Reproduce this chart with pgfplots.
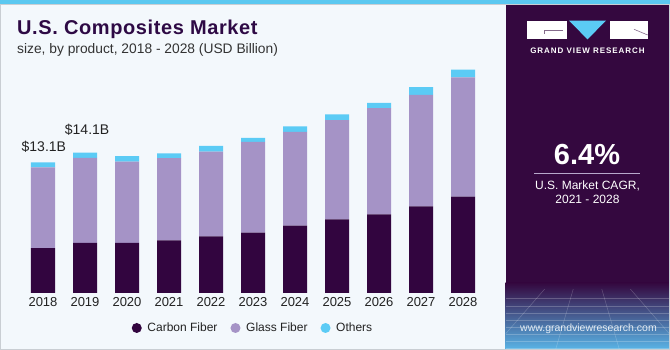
\documentclass[border=0pt]{standalone}
\usepackage{pgfplots}
\pgfplotsset{compat=1.18}
\usepackage{fontspec}
\setmainfont{Liberation Sans}
\newfontfamily\gvrfont[LetterSpace=12]{Liberation Sans}
\newfontfamily\titlefont[LetterSpace=3]{Liberation Sans}
\definecolor{carbon}{HTML}{32053F}
\definecolor{glass}{HTML}{A593C6}
\definecolor{others}{HTML}{5BCBF5}
\definecolor{panel}{HTML}{34083F}
\definecolor{leftbg}{HTML}{F3F8FC}
\definecolor{topcyan}{HTML}{5BC8F0}
\definecolor{framegray}{HTML}{C9CED3}
\definecolor{titlepurple}{HTML}{2E0A45}
\definecolor{subgray}{HTML}{333333}
\definecolor{labelgray}{HTML}{222222}
\definecolor{linepurple}{HTML}{B7A8CB}
\definecolor{photoblue}{HTML}{5AB6E8}
\definecolor{photomid}{HTML}{4A5FA8}
\begin{document}
\begin{tikzpicture}
\path[use as bounding box] (0pt,0pt) rectangle (670pt,350pt);
\fill[leftbg] (0pt,0pt) rectangle (670pt,350pt);
\fill[panel] (505.5pt,0pt) rectangle (670pt,346pt);
\shade[top color=panel, middle color=photomid, bottom color=photoblue] (505.5pt,0pt) rectangle (670pt,67pt);
\begin{scope}
\clip (505.5pt,0pt) rectangle (670pt,60pt);
\foreach \yy in {52,44,37,30,23,16,9,2} {\draw[white, opacity=0.22, line width=0.5pt] (505.5pt,\yy pt) -- (670pt,\yy pt);}
\foreach \xx in {-300,-240,-180,-120,-60,-20,20,60,120,180,240,300} {\draw[white, opacity=0.22, line width=0.5pt] (587.5pt,110pt) -- ({587.5pt+\xx*1.6pt},0pt);}
\end{scope}
\fill[topcyan] (0pt,345.5pt) rectangle (670pt,350pt);
\draw[framegray, line width=1pt] (0.5pt,0.5pt) rectangle (669.5pt,345pt);
\node[anchor=base west, font=\titlefont\fontsize{20}{23}\selectfont\bfseries, text=titlepurple, inner sep=0pt] at (17pt,315pt) {U.S. Composites Market};
\node[anchor=base west, font=\fontsize{13.8}{16}\selectfont, text=subgray, inner sep=0pt] at (17pt,296.7pt) {size, by product, 2018 - 2028 (USD Billion)};
% logo
\fill[white] (526.7pt,310.7pt) rectangle (566.7pt,329.3pt);
\fill[others] (569pt,329.3pt) -- (606pt,329.3pt) -- (587.5pt,310.7pt) -- cycle;
\fill[white] (610pt,310.7pt) rectangle (647.7pt,329.3pt);
\draw[panel!60, line width=0.6pt] (563pt,319.3pt) -- (544pt,319.3pt) -- (544pt,316.3pt);
\draw[panel!60, line width=0.6pt] (634pt,320.7pt) -- (647.7pt,315pt);
\node[anchor=base, inner sep=0pt, font=\gvrfont\bfseries\fontsize{8}{9}\selectfont, text=white] at (587.5pt,296.7pt) {GRAND VIEW RESEARCH};
\node[anchor=base, inner sep=0pt, font=\bfseries\fontsize{29}{32}\selectfont, text=white] at (587pt,185pt) {6.4\%};
\draw[linepurple, line width=1.2pt] (534pt,176.7pt) -- (640pt,176.7pt);
\node[anchor=base, inner sep=0pt, font=\fontsize{12}{14}\selectfont, text=white] at (587.5pt,160pt) {U.S. Market CAGR,};
\node[anchor=base, inner sep=0pt, font=\fontsize{12}{14}\selectfont, text=white] at (587.5pt,146pt) {2021 - 2028};
\node[inner sep=0pt, font=\fontsize{10.5}{12}\selectfont, text=white, opacity=0.85] at (588.5pt,21pt) {www.grandviewresearch.com};
\begin{axis}[
  at={(1pt,57pt)}, anchor=south west,
  x=42pt, y=9.97pt,
  xmin=-1, xmax=11, ymin=0, ymax=25,
  ybar stacked, bar width=24pt,
  axis line style={draw=none},
  major tick length=0pt,
  ytick=\empty,
  xtick={0,1,2,3,4,5,6,7,8,9,10},
  xticklabels={2018,2019,2020,2021,2022,2023,2024,2025,2026,2027,2028},
  xticklabel style={font=\fontsize{13}{15}\selectfont, text=labelgray, yshift=-1pt},
  clip=false,
  legend style={at={(0.5,-0.1404)}, anchor=center, draw=none, fill=none,
    legend columns=3, font=\fontsize{12}{14}\selectfont, text=labelgray,
    /tikz/every even column/.append style={column sep=11pt}},
]
\addplot[fill=carbon, draw=none, legend image code/.code={\fill[carbon] (0pt,0pt) circle (5pt); \path (8.7pt,0pt);}] coordinates {
(0,4.51) (1,5.02) (2,5.02) (3,5.28) (4,5.69) (5,6.05) (6,6.75) (7,7.39) (8,7.89) (9,8.70) (10,9.66)};
\addplot[fill=glass, draw=none, legend image code/.code={\fill[glass] (0pt,0pt) circle (5pt); \path (8.7pt,0pt);}] coordinates {
(0,8.08) (1,8.53) (2,8.15) (3,8.26) (4,8.49) (5,9.10) (6,9.40) (7,9.96) (8,10.66) (9,11.16) (10,11.97)};
\addplot[fill=others, draw=none, legend image code/.code={\fill[others] (0pt,0pt) circle (5pt); \path (8.7pt,0pt);}] coordinates {
(0,0.51) (1,0.53) (2,0.57) (3,0.46) (4,0.57) (5,0.42) (6,0.57) (7,0.57) (8,0.53) (9,0.80) (10,0.77)};
\legend{Carbon Fiber, Glass Fiber, Others}
\node[font=\fontsize{14}{16}\selectfont, text=labelgray] at (axis cs:0.02,14.64) {\$13.1B};
\node[font=\fontsize{14}{16}\selectfont, text=labelgray] at (axis cs:1.05,16.35) {\$14.1B};
\end{axis}
\end{tikzpicture}
\end{document}
